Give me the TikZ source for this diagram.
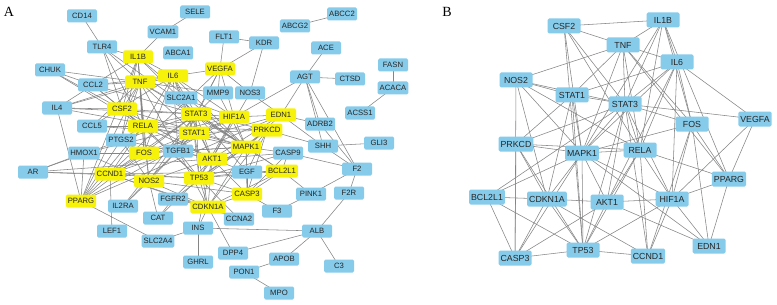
\documentclass[tikz,border=0pt]{standalone}
\usepackage{fontspec}
\setmainfont{Liberation Sans}
\newfontfamily\labfont{Liberation Serif}
\pgfdeclarelayer{background}
\pgfsetlayers{background,main}
\definecolor{nblue}{HTML}{87CBEB}
\definecolor{nyellow}{HTML}{F7F20A}
\definecolor{egray}{HTML}{858585}
\newcommand\coreedges[1]{%
\foreach \u/\v in {CSF2/IL1B,CSF2/TNF,CSF2/STAT3,CSF2/MAPK1,CSF2/TP53,CSF2/RELA,
IL1B/TNF,IL1B/IL6,IL1B/STAT3,IL1B/RELA,IL1B/FOS,IL1B/MAPK1,IL1B/PPARG,
TNF/IL6,TNF/NOS2,TNF/STAT1,TNF/STAT3,TNF/FOS,TNF/RELA,TNF/PPARG,TNF/MAPK1,
IL6/STAT1,IL6/STAT3,IL6/VEGFA,IL6/FOS,IL6/MAPK1,IL6/RELA,IL6/HIF1A,IL6/AKT1,
NOS2/STAT1,NOS2/STAT3,NOS2/MAPK1,NOS2/CDKN1A,NOS2/RELA,NOS2/CASP3,
STAT1/STAT3,STAT1/PRKCD,STAT1/MAPK1,STAT1/CDKN1A,STAT1/TP53,
STAT3/FOS,STAT3/VEGFA,STAT3/PRKCD,STAT3/MAPK1,STAT3/RELA,STAT3/AKT1,STAT3/HIF1A,STAT3/CCND1,STAT3/TP53,STAT3/BCL2L1,
FOS/MAPK1,FOS/HIF1A,FOS/EDN1,FOS/CCND1,FOS/PPARG,
VEGFA/HIF1A,VEGFA/PPARG,
PRKCD/MAPK1,PRKCD/RELA,PRKCD/CASP3,PRKCD/CDKN1A,PRKCD/TP53,
MAPK1/RELA,MAPK1/BCL2L1,MAPK1/CDKN1A,MAPK1/AKT1,MAPK1/TP53,MAPK1/HIF1A,MAPK1/EDN1,MAPK1/CASP3,
RELA/PPARG,RELA/AKT1,RELA/HIF1A,RELA/CCND1,RELA/TP53,
PPARG/HIF1A,PPARG/EDN1,
BCL2L1/CDKN1A,BCL2L1/CASP3,BCL2L1/TP53,
CDKN1A/AKT1,CDKN1A/TP53,CDKN1A/CASP3,CDKN1A/CCND1,
AKT1/HIF1A,AKT1/TP53,AKT1/CASP3,AKT1/EDN1,
HIF1A/TP53,HIF1A/EDN1,HIF1A/CCND1,
TP53/CASP3,TP53/CCND1}
{\draw[edge] (#1\u.center) -- (#1\v.center);}}
\begin{document}
\begin{tikzpicture}[x=1pt,y=-1pt,
  edge/.style={draw=egray,line width=0.55pt},
  anode/.style={rectangle,rounded corners=1.5pt,minimum width=30pt,minimum height=13pt,inner xsep=2pt,inner ysep=1pt,font=\fontsize{7.7}{8}\selectfont,text=black!85},
  ab/.style={anode,fill=nblue},
  ay/.style={anode,fill=nyellow},
  bnode/.style={rectangle,rounded corners=1.5pt,fill=nblue,minimum width=33pt,minimum height=15pt,inner xsep=2pt,inner ysep=1pt,font=\fontsize{8.8}{9}\selectfont,text=black!85},
  plabel/.style={font=\labfont\fontsize{14}{14}\selectfont,inner sep=0pt}]
\useasboundingbox (0,0) rectangle (777,305);
\node[plabel] (labA) at (9,12) {A};
\node[plabel] (labB) at (447,12) {B};
% ---- Panel A nodes
\foreach \n/\x/\y in {CD14/82/16,SELE/195/12,VCAM1/163/32,ABCG2/295/26,ABCC2/342/14,FLT1/224/37,KDR/264/43,ACE/326/48,FASN/393/65,TLR4/102/47,ABCA1/178/53,CHUK/50/70,AGT/305/77,CTSD/350/79,ACACA/393/88,CCL2/93/85,SLC2A1/181/98,MMP9/218/93,NOS3/250/93,IL4/57/108,ACSS1/360/113,ADRB2/320/124,CCL5/92/126,PTGS2/121/140,SHH/323/146,GLI3/379/143,HMOX1/84/153,TGFB1/178/151,CASP9/288/153,EGF/247/172,F2/357/169,AR/33/172,F2R/349/193,PINK1/311/194,FGFR2/173/199,IL2RA/123/206,F3/277/211,CAT/158/218,CCNA2/239/219,INS/198/228,ALB/317/231,LEF1/112/231,SLC2A4/158/241,DPP4/233/253,APOB/284/259,GHRL/198/262,C3/339/266,PON1/244/272,MPO/279/293}
  {\node[ab] (a\n) at (\x,\y) {\n};}
\foreach \n/\x/\y in {IL1B/138/57,VEGFA/220/69,IL6/173/76,TNF/140/82,CSF2/122/109,HIF1A/234/117,EDN1/281/115,STAT3/196/114,RELA/143/126,STAT1/194/133,PRKCD/267/130,MAPK1/246/147,FOS/144/153,AKT1/212/159,BCL2L1/282/171,CCND1/110/174,NOS2/149/181,TP53/199/178,CASP3/247/194,PPARG/81/201,CDKN1A/208/207}
  {\node[ay] (a\n) at (\x,\y) {\n};}
% ---- Panel B nodes
\foreach \n/\x/\y in {CSF2/564/26,IL1B/663/20,TNF/623/45,IL6/677/62,NOS2/516/80,STAT1/572/95,STAT3/625/104,FOS/692/124,VEGFA/755/119,PRKCD/516/144,MAPK1/582/153,RELA/640/150,PPARG/729/179,BCL2L1/487/197,CDKN1A/547/199,AKT1/607/202,HIF1A/672/199,EDN1/709/246,TP53/583/250,CCND1/648/256,CASP3/515/258}
  {\node[bnode] (b\n) at (\x,\y) {\n};}
\begin{pgfonlayer}{background}
\fill[white] (0,0) rectangle (777,305);
\coreedges{a}
\coreedges{b}
\foreach \u/\v in {CD14/TLR4,SELE/VCAM1,VCAM1/IL1B,ABCG2/ABCC2,FLT1/VEGFA,FLT1/KDR,KDR/VEGFA,KDR/NOS3,ACE/AGT,AGT/CTSD,FASN/ACACA,ACACA/ACSS1,
AGT/EDN1,AGT/HIF1A,AGT/F2,AGT/SHH,AGT/ADRB2,EDN1/ADRB2,EDN1/SHH,PRKCD/SHH,SHH/GLI3,SHH/F2,CASP9/F2,F2/F2R,F2/PINK1,ADRB2/F2,
BCL2L1/PINK1,PINK1/F3,F2R/ALB,ALB/INS,ALB/DPP4,ALB/APOB,ALB/C3,APOB/PON1,PON1/MPO,INS/GHRL,INS/SLC2A4,INS/AKT1,INS/CDKN1A,DPP4/CDKN1A,
SLC2A4/PPARG,LEF1/CCND1,IL2RA/NOS2,IL2RA/STAT3,IL2RA/STAT1,CAT/NOS2,CAT/FGFR2,CAT/TP53,
AR/CCND1,AR/AKT1,AR/TP53,AR/STAT3,AR/HMOX1,
TLR4/IL1B,TLR4/TNF,TLR4/RELA,TLR4/MAPK1,TLR4/CSF2,
CHUK/RELA,CHUK/TNF,CHUK/AKT1,CHUK/CCL2,
CCL2/TNF,CCL2/IL6,CCL2/IL1B,CCL2/CSF2,CCL2/RELA,CCL2/STAT3,CCL2/IL4,
IL4/IL6,IL4/CSF2,IL4/STAT3,IL4/TNF,IL4/PPARG,IL4/STAT1,
CCL5/RELA,CCL5/STAT1,CCL5/TNF,CCL5/IL6,
PTGS2/RELA,PTGS2/NOS2,PTGS2/FOS,PTGS2/AKT1,PTGS2/IL1B,PTGS2/TNF,PTGS2/PPARG,
HMOX1/NOS2,HMOX1/HIF1A,HMOX1/PPARG,HMOX1/FOS,
SLC2A1/HIF1A,SLC2A1/AKT1,MMP9/VEGFA,MMP9/TNF,MMP9/STAT3,MMP9/MAPK1,
NOS3/VEGFA,NOS3/AKT1,NOS3/EDN1,
TGFB1/TNF,TGFB1/IL6,TGFB1/STAT3,TGFB1/MAPK1,TGFB1/AKT1,TGFB1/TP53,TGFB1/FOS,TGFB1/CDKN1A,TGFB1/CCND1,TGFB1/VEGFA,
EGF/AKT1,EGF/MAPK1,EGF/STAT3,EGF/CASP3,EGF/BCL2L1,EGF/PRKCD,EGF/TP53,EGF/CCND1,
CASP9/AKT1,CASP9/CASP3,CASP9/TP53,CASP9/BCL2L1,CASP9/MAPK1,
FGFR2/AKT1,FGFR2/MAPK1,FGFR2/CDKN1A,
CCNA2/CDKN1A,CCNA2/TP53,CCNA2/CCND1,F3/CASP3}
{\draw[edge] (a\u.center) -- (a\v.center);}
\end{pgfonlayer}
\end{tikzpicture}
\end{document}
